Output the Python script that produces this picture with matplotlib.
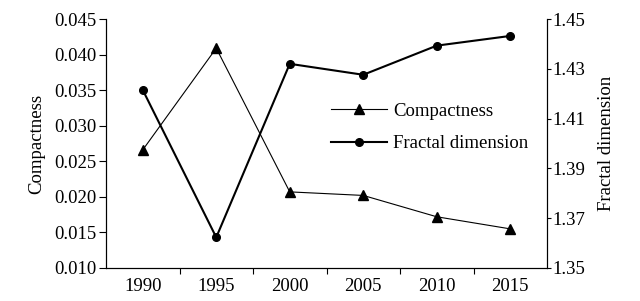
import matplotlib
matplotlib.use("Agg")
import matplotlib.pyplot as plt

years = ["1990", "1995", "2000", "2005", "2010", "2015"]
compactness = [0.0266, 0.0409, 0.0207, 0.0202, 0.0172, 0.0155]
fractal = [1.4215, 1.3623, 1.4320, 1.4276, 1.4393, 1.4432]
left_ticks = [0.010, 0.015, 0.020, 0.025, 0.030, 0.035, 0.040, 0.045]
right_ticks = [1.35, 1.37, 1.39, 1.41, 1.43, 1.45]

plt.rcParams['font.family'] = ['Liberation Serif', 'DejaVu Serif']
fs = 13.5

fig = plt.figure(figsize=(6.40, 3.01), dpi=100)
ax = fig.add_axes([106/640, 1-268/301, (547-106)/640, (268-19)/301])
ax2 = ax.twinx()

x = list(range(len(years)))
l1, = ax.plot(x, compactness, color='black', lw=0.8, marker='^', ms=7.5)
l2, = ax2.plot(x, fractal, color='black', lw=1.5, marker='o', ms=5.5)

ax.set_xlim(-0.5, len(years) - 0.5)
ax.set_ylim(0.010, 0.045)
ax2.set_ylim(1.35, 1.45)

ax.set_yticks(left_ticks)
ax.set_yticklabels([f"{v:.3f}" for v in left_ticks], fontsize=fs)
ax2.set_yticks(right_ticks)
ax2.set_yticklabels([f"{v:.2f}" for v in right_ticks], fontsize=fs)

ax.set_xticks([i + 0.5 for i in x[:-1]])
ax.set_xticklabels([])
ax.set_xticks(x, minor=True)
ax.set_xticklabels(years, minor=True, fontsize=fs)
ax.tick_params(axis='x', which='major', direction='out', length=4, width=0.8)
ax.tick_params(axis='x', which='minor', length=0, pad=7)
ax.tick_params(axis='y', direction='out', length=5, width=0.8, pad=1.5)
ax2.tick_params(axis='y', direction='out', length=3, width=0.8, pad=1)

for a in (ax, ax2):
    a.spines['top'].set_visible(False)
    for s in ('left', 'right', 'bottom'):
        a.spines[s].set_linewidth(0.8)

ax.set_ylabel("Compactness", fontsize=fs, labelpad=7)
ax2.set_ylabel("Fractal dimension", fontsize=fs, labelpad=9)

leg = ax.legend([l1, l2], ["Compactness", "Fractal dimension"], frameon=False,
                fontsize=fs, loc='upper left',
                bbox_to_anchor=((323-106)/441, (268-95)/249),
                handlelength=3.0, handletextpad=0.35, labelspacing=0.82,
                borderaxespad=0)

fig.savefig("out.png", dpi=100)
